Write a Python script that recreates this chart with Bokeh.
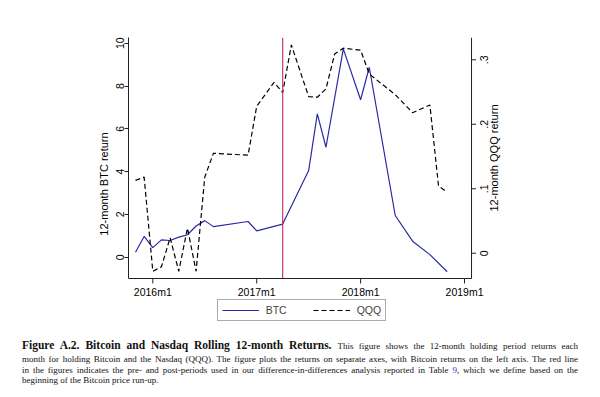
import math
from bokeh.plotting import figure
from bokeh.models import Range1d, FixedTicker, Legend, LegendItem, Div
from bokeh.core.properties import value
from bokeh.layouts import column
from bokeh.embed import file_html
from bokeh.resources import INLINE

# months counted from 2016m1 = 0
btc_months = [-2, -1, 0, 1, 2, 3, 4, 5, 6, 7, 11, 12, 15, 18, 19, 20, 22, 24, 25, 28, 30, 32, 34]
btc_return = [0.23, 0.97, 0.45, 0.81, 0.78, 0.94, 1.05, 1.46, 1.71, 1.43, 1.67, 1.23, 1.55,
              4.05, 6.70, 5.14, 9.74, 7.36, 8.88, 1.95, 0.75, 0.12, -0.68]

qqq_months = [-2, -1, 0, 1, 2, 3, 4, 5, 6, 7, 11, 12, 14, 15, 16, 18, 19, 20, 21, 22, 24, 25,
              28, 30, 32, 33, 34]
qqq_return = [0.113, 0.118, -0.028, -0.021, 0.024, -0.028, 0.039, -0.028, 0.118, 0.155, 0.152,
              0.228, 0.265, 0.249, 0.323, 0.243, 0.242, 0.255, 0.309, 0.318, 0.315, 0.278,
              0.246, 0.218, 0.230, 0.104, 0.095]

x_tick_months = [0, 12, 24, 36]
x_tick_labels = ["2016m1", "2017m1", "2018m1", "2019m1"]
btc_ticks = [0, 2, 4, 6, 8, 10]
qqq_ticks = [0, 0.1, 0.2, 0.3]
qqq_tick_labels = ["0", ".1", ".2", ".3"]
event_month = 15  # 2017m4

caption_title = "Figure A.2. Bitcoin and Nasdaq Rolling 12-month Returns."
caption_lines = [
    "This figure shows the 12-month holding period returns each",
    "month for holding Bitcoin and the Nasdaq (QQQ). The figure plots the returns on separate axes, with Bitcoin returns on the left axis. The red line",
    "in the figures indicates the pre- and post-periods used in our difference-in-differences analysis reported in Table <span style=\"color:#2233cc\">9</span>, which we define based on the",
    "beginning of the Bitcoin price run-up.",
]

FONT = "Liberation Sans"
AX = "#222222"

# plot region: axes sit at the region's edges; the frame extends further right and down
X_START, X_AXIS_END, X_END = -2.807, 36.81, 41.08
Y_LEFT = (-0.995, 10.27)          # BTC axis extent
Y_RIGHT = (-0.0392, 0.3346)       # QQQ axis extent
FRAME_W, FRAME_H = 380, 293
PLOT_H = 241
PX_PER_MONTH = FRAME_W / (X_END - X_START)
PX_PER_BTC = PLOT_H / (Y_LEFT[1] - Y_LEFT[0])
PX_PER_QQQ = PLOT_H / (Y_RIGHT[1] - Y_RIGHT[0])
EXTRA = FRAME_H - PLOT_H
y_left_range = Range1d(Y_LEFT[0] - EXTRA / PX_PER_BTC, Y_LEFT[1])
y_right_range = Range1d(Y_RIGHT[0] - EXTRA / PX_PER_QQQ, Y_RIGHT[1])

p = figure(width=600, height=330, output_backend="svg", toolbar_location=None,
           x_axis_location=None,
           x_range=Range1d(X_START, X_END), y_range=y_left_range,
           min_border_left=128, min_border_right=92, min_border_top=37, min_border_bottom=0)
p.extra_y_ranges = {"qqq": y_right_range}
p.outline_line_color = None
p.grid.visible = False
p.background_fill_color = "white"
p.border_fill_color = "white"

r_btc = p.line(btc_months, btc_return, line_color="#2a2aa5", line_width=1.2)
r_qqq = p.line(qqq_months, qqq_return, y_range_name="qqq", line_color="black",
               line_width=1.2, line_dash="5 3")

# event line (2017m4)
p.segment(x0=[event_month], y0=[Y_LEFT[0]], x1=[event_month], y1=[Y_LEFT[1]],
          line_color="#cc2a50", line_width=1.1)

# left BTC axis (bokeh axis, bounded to the plot region)
ya = p.yaxis[0]
ya.bounds = Y_LEFT
ya.ticker = FixedTicker(ticks=btc_ticks)
ya.axis_label = "12-month BTC return"
ya.axis_line_color = AX
ya.major_tick_line_color = AX
ya.major_tick_in = 0
ya.major_tick_out = 4
ya.minor_tick_line_color = None
ya.major_label_orientation = "vertical"
ya.major_label_standoff = 0
ya.major_label_text_font = FONT
ya.major_label_text_font_size = "10.5px"
ya.major_label_text_color = "black"
ya.axis_label_standoff = 4
ya.axis_label_text_font = FONT
ya.axis_label_text_font_size = "11px"
ya.axis_label_text_font_style = "normal"
ya.axis_label_text_color = "black"

txt = dict(text_font=value(FONT), text_color="black")

# bottom time axis
nx = len(x_tick_months)
p.segment(x0=[X_START], y0=[Y_LEFT[0]], x1=[X_AXIS_END], y1=[Y_LEFT[0]],
          line_color=AX, line_width=1)
p.segment(x0=x_tick_months, y0=[Y_LEFT[0]] * nx, x1=x_tick_months,
          y1=[Y_LEFT[0] - 5 / PX_PER_BTC] * nx, line_color=AX, line_width=1)
p.text(x=x_tick_months, y=[Y_LEFT[0]] * nx, text=x_tick_labels, y_offset=13.7,
       text_align="center", text_baseline="middle", text_font_size="10.5px", **txt)

# right QQQ axis
n = len(qqq_ticks)
p.segment(x0=[X_AXIS_END], y0=[Y_LEFT[0]], x1=[X_AXIS_END], y1=[Y_LEFT[1]],
          line_color=AX, line_width=1)
p.segment(x0=[X_AXIS_END] * n, y0=qqq_ticks, x1=[X_AXIS_END + 4.5 / PX_PER_MONTH] * n,
          y1=qqq_ticks, y_range_name="qqq", line_color=AX, line_width=1)
p.text(x=[X_AXIS_END] * n, y=qqq_ticks, text=qqq_tick_labels, y_range_name="qqq",
       x_offset=12.5, angle=math.pi / 2, text_align="center", text_baseline="middle",
       text_font_size="10.5px", **txt)
p.text(x=[X_AXIS_END], y=[(Y_LEFT[0] + Y_LEFT[1]) / 2], text=["12-month QQQ return"],
       x_offset=22.5, angle=math.pi / 2, text_align="center", text_baseline="middle",
       text_font_size="11px", **txt)

legend = Legend(items=[LegendItem(label="BTC", renderers=[r_btc]),
                       LegendItem(label="QQQ", renderers=[r_qqq])],
                orientation="horizontal", location=(88.7, 8.7), margin=0, padding=4,
                spacing=26, label_standoff=7, glyph_width=37, glyph_height=12,
                label_height=12, label_text_font=FONT, label_text_font_size="10.5px",
                border_line_color="#555555", border_line_width=1,
                background_fill_color="white", background_fill_alpha=1.0)
p.add_layout(legend)

line_style = "font-size:9px;line-height:10.5px;text-align:justify;text-align-last:justify;margin:0;"
html = ("<div style=\"font-family:'Liberation Serif';color:#111;width:556px;margin:0 0 0 22px;padding-top:8px;\">"
        "<div style=\"font-size:11.5px;line-height:15px;text-align:justify;text-align-last:justify;margin:0;\">"
        "<b>" + caption_title + "</b> <span style=\"font-size:9px\">" + caption_lines[0] + "</span></div>"
        "<div style=\"" + line_style + "\">" + caption_lines[1] + "</div>"
        "<div style=\"" + line_style + "\">" + caption_lines[2] + "</div>"
        "<div style=\"font-size:9px;line-height:10.5px;margin:0;\">" + caption_lines[3] + "</div>"
        "</div>")
div = Div(text=html, width=600, height=60, margin=0)

layout = column(p, div)
open("out.html", "w").write(file_html(layout, INLINE))
